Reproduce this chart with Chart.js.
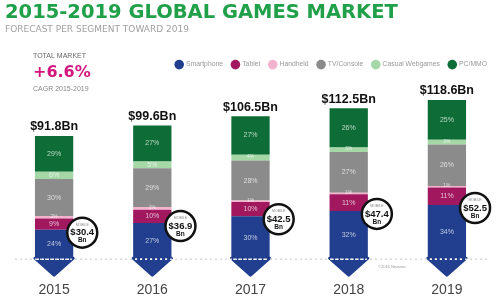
<!DOCTYPE html>
<html lang="en">
<head>
  <meta charset="UTF-8">
  <title>2015-2019 Global Games Market</title>
  <script src="https://cdn.jsdelivr.net/npm/chart.js@4.4.1/dist/chart.umd.min.js"></script>
  <style>
    body {
      margin: 0;
      background: #fff;
    }
    .wrap {
      width: 500px;
      height: 300px;
    }
  </style>
</head>
<body>
  <div class="wrap"><canvas id="chart"></canvas></div>
  <script>
    // data
    const years = ['2015', '2016', '2017', '2018', '2019'];
    const totals = [91.8, 99.6, 106.5, 112.5, 118.6];      // $Bn
    const mobile = [30.4, 36.9, 42.5, 47.4, 52.5];         // $Bn (smartphone + tablet)
    const segments = ['Smartphone', 'Tablet', 'Handheld', 'TV/Console', 'Casual Webgames', 'PC/MMO'];
    const smartphonePct = [24, 27, 30, 32, 34];
    const tabletPct = [9, 10, 10, 11, 11];
    const handheldPct = [2, 2, 1, 1, 1];
    const consolePct = [30, 29, 28, 27, 26];
    const casualPct = [6, 5, 4, 3, 3];
    const pcPct = [29, 27, 27, 26, 25];
    const colors = ['#213f8e', '#a1185f', '#f3b3cc', '#8b8b8b', '#a5d7a7', '#0e6d36'];

    const pcts = [smartphonePct, tabletPct, handheldPct, consolePct, casualPct, pcPct];

    const datasets = segments.map(function (name, i) {
      return {
        label: name,
        data: pcts[i].map(function (p, j) { return totals[j] * p / 100; }),
        pct: pcts[i],
        backgroundColor: colors[i],
        borderWidth: 0
      };
    });

    const extras = {
      id: 'extras',
      afterDatasetsDraw(chart) {
        const ctx = chart.ctx;
        const area = chart.chartArea;
        const yScale = chart.scales.y;
        ctx.save();

        // arrow tips under each bar
        const first = chart.getDatasetMeta(0).data;
        first.forEach(function (bar) {
          const half = bar.width / 2;
          ctx.fillStyle = colors[0];
          ctx.strokeStyle = colors[0];
          ctx.lineWidth = 3;
          ctx.lineJoin = 'round';
          ctx.beginPath();
          ctx.moveTo(bar.x - half, bar.base - 1);
          ctx.lineTo(bar.x + half, bar.base - 1);
          ctx.lineTo(bar.x, bar.base + 16);
          ctx.closePath();
          ctx.fill();
          ctx.stroke();
        });

        // dotted base line
        const lineY = area.bottom;
        ctx.setLineDash([2, 3]);
        ctx.lineWidth = 1.5;
        ctx.strokeStyle = '#d8d8d8';
        ctx.beginPath();
        ctx.moveTo(15, lineY);
        ctx.lineTo(488, lineY);
        ctx.stroke();
        ctx.strokeStyle = '#ffffff';
        first.forEach(function (bar) {
          ctx.beginPath();
          ctx.moveTo(bar.x - bar.width / 2 + 2, lineY);
          ctx.lineTo(bar.x + bar.width / 2 - 2, lineY);
          ctx.stroke();
        });
        ctx.setLineDash([]);

        // percent labels
        ctx.textAlign = 'center';
        ctx.textBaseline = 'middle';
        chart.data.datasets.forEach(function (ds, i) {
          chart.getDatasetMeta(i).data.forEach(function (bar, j) {
            const h = bar.base - bar.y;
            ctx.fillStyle = 'rgba(255,255,255,0.7)';
            ctx.font = (h < 6 ? '5px' : '7px') + ' "Liberation Sans", sans-serif';
            ctx.fillText(ds.pct[j] + '%', bar.x, (bar.y + bar.base) / 2 + (h < 6 ? -1 : 0));
          });
        });

        // totals above bars
        ctx.fillStyle = '#111';
        ctx.font = 'bold 12.5px "Liberation Sans", sans-serif';
        totals.forEach(function (t, j) {
          const bar = first[j];
          ctx.fillText('$' + t.toFixed(1) + 'Bn', bar.x, yScale.getPixelForValue(t) - 9);
        });

        // mobile circles
        first.forEach(function (bar, j) {
          const cx = bar.x + bar.width / 2 + 9;
          const cy = bar.y + 3;
          ctx.beginPath();
          ctx.arc(cx, cy, 15, 0, Math.PI * 2);
          ctx.fillStyle = '#fff';
          ctx.fill();
          ctx.lineWidth = 2.5;
          ctx.strokeStyle = '#111';
          ctx.stroke();
          ctx.fillStyle = '#888';
          ctx.font = '3.5px "Liberation Sans", sans-serif';
          ctx.fillText('MOBILE', cx, cy - 8);
          ctx.fillStyle = '#111';
          ctx.font = 'bold 9.5px "Liberation Sans", sans-serif';
          ctx.fillText('$' + mobile[j].toFixed(1), cx, cy);
          ctx.font = 'bold 6.5px "Liberation Sans", sans-serif';
          ctx.fillText('Bn', cx, cy + 8);
        });

        // copyright
        ctx.fillStyle = '#999';
        ctx.font = '4px "Liberation Sans", sans-serif';
        ctx.textAlign = 'left';
        ctx.fillText('\u00a92016 Newzoo', 378, 267);

        // CAGR block
        ctx.fillStyle = '#666';
        ctx.font = '7px "Liberation Sans", sans-serif';
        ctx.fillText('TOTAL MARKET', 33, 56);
        ctx.fillStyle = '#d4177e';
        ctx.font = 'bold 16px "DejaVu Sans", sans-serif';
        ctx.fillText('+6.6%', 33, 73);
        ctx.fillStyle = '#888';
        ctx.font = '7px "Liberation Sans", sans-serif';
        ctx.fillText('CAGR 2015-2019', 33, 89);
        ctx.restore();
      }
    };

    new Chart(document.getElementById('chart'), {
      type: 'bar',
      data: { labels: years, datasets: datasets },
      plugins: [extras],
      options: {
        responsive: true,
        maintainAspectRatio: false,
        animation: false,
        layout: { padding: { left: 5, right: 4, top: 0, bottom: -22 } },
        datasets: {
          bar: { categoryPercentage: 1, barPercentage: 0.39 }
        },
        plugins: {
          title: {
            display: true,
            text: '2015-2019 GLOBAL GAMES MARKET',
            align: 'start',
            color: '#21a04a',
            font: { family: '"DejaVu Sans"', size: 19.5, weight: 'bold' },
            padding: { top: 1, bottom: 0 }
          },
          subtitle: {
            display: true,
            text: 'FORECAST PER SEGMENT TOWARD 2019',
            align: 'start',
            color: '#a0a0a0',
            font: { family: '"DejaVu Sans"', size: 9 },
            padding: { top: 0, bottom: 17 }
          },
          legend: {
            position: 'top',
            align: 'end',
            labels: {
              usePointStyle: true,
              pointStyle: 'circle',
              boxWidth: 7,
              boxHeight: 7,
              padding: 9,
              color: '#999',
              font: { family: '"Liberation Sans"', size: 6.8 }
            }
          },
          tooltip: { enabled: false }
        },
        scales: {
          x: {
            stacked: true,
            grid: { display: false, drawTicks: false },
            border: { display: false },
            ticks: {
              padding: 23,
              color: '#444',
              font: { family: '"Liberation Sans"', size: 14 }
            }
          },
          y: {
            stacked: true,
            display: false,
            min: 0,
            max: 135
          }
        }
      }
    });
  </script>
</body>
</html>
